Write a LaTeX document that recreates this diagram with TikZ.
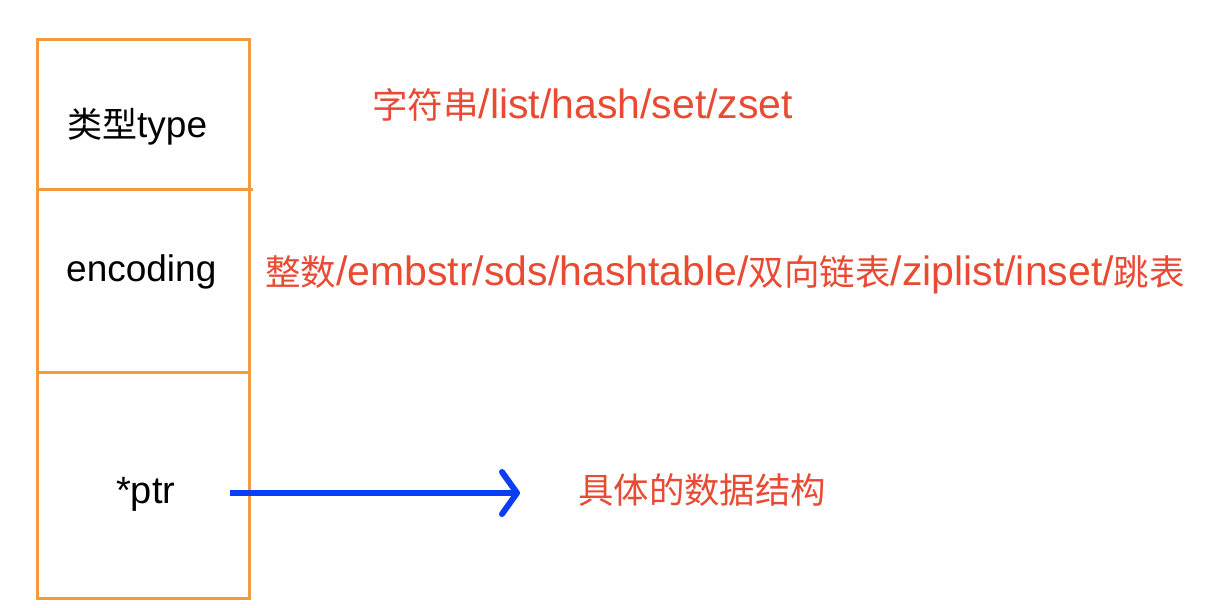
\documentclass[tikz,border=0pt]{standalone}
\usepackage{fontspec}
\setmainfont{Liberation Sans}
\newfontfamily\cjk{Noto Sans CJK SC}
\usetikzlibrary{arrows.meta}
\definecolor{boxorange}{HTML}{F29B3C}
\definecolor{labred}{HTML}{E84A33}
\definecolor{ptrblue}{HTML}{0B3DF5}
\newcommand\zh[2]{{\cjk\fontsize{#1}{#1}\selectfont #2}}
\newcommand\la[1]{\fontsize{#1}{#1}\selectfont}
\tikzset{
  field/.style={draw=boxorange, line width=3pt, minimum width=212pt, inner sep=0pt, outer sep=0pt},
  redlabel/.style={text=labred, anchor=base west, inner sep=0pt},
  blacklabel/.style={text=black, anchor=base west, inner sep=0pt},
  ptrarrow/.style={draw=ptrblue, line width=6pt, -{Straight Barb[length=15pt,width=42pt,line width=6pt,round]}}
}
\begin{document}
\begin{tikzpicture}[x=1pt,y=-1pt]
\useasboundingbox (0,0) rectangle (1208,608);
% boxes
\node[field, minimum height=150pt, anchor=north west] (typebox) at (37,39) {};
\node[field, minimum height=183pt, anchor=north west] (encbox) at (37,189) {};
\node[field, minimum height=226pt, anchor=north west] (ptrbox) at (37,372) {};
\draw[boxorange, line width=3pt] (typebox.south east) -- ++(4,0);
% box texts
\node[blacklabel] (typetxt) at (67,137) {\zh{35}{类型}\la{37}type};
\node[blacklabel] (enctxt) at (66,281) {\la{37}encoding};
\node[blacklabel] (ptrtxt) at (116,503) {\la{38}*ptr};
% red texts
\node[redlabel] (typelab) at (372,118) {\zh{35.5}{字符串}\la{41}/list/hash/set/zset};
\node[redlabel] (enclab) at (265,285) {\zh{35.5}{整数}\la{41}/embstr/sds/hashtable/\zh{35.5}{双向链表}\la{41}/ziplist/inset/\zh{35.5}{跳表}};
\node[redlabel] (ptrlab) at (578,503) {\zh{35.4}{具体的数据结构}};
% arrow
\coordinate (ptrstart) at (230,493);
\coordinate (ptrend) at (520,493);
\draw[ptrarrow] (ptrstart) -- (ptrend);
\end{tikzpicture}
\end{document}
